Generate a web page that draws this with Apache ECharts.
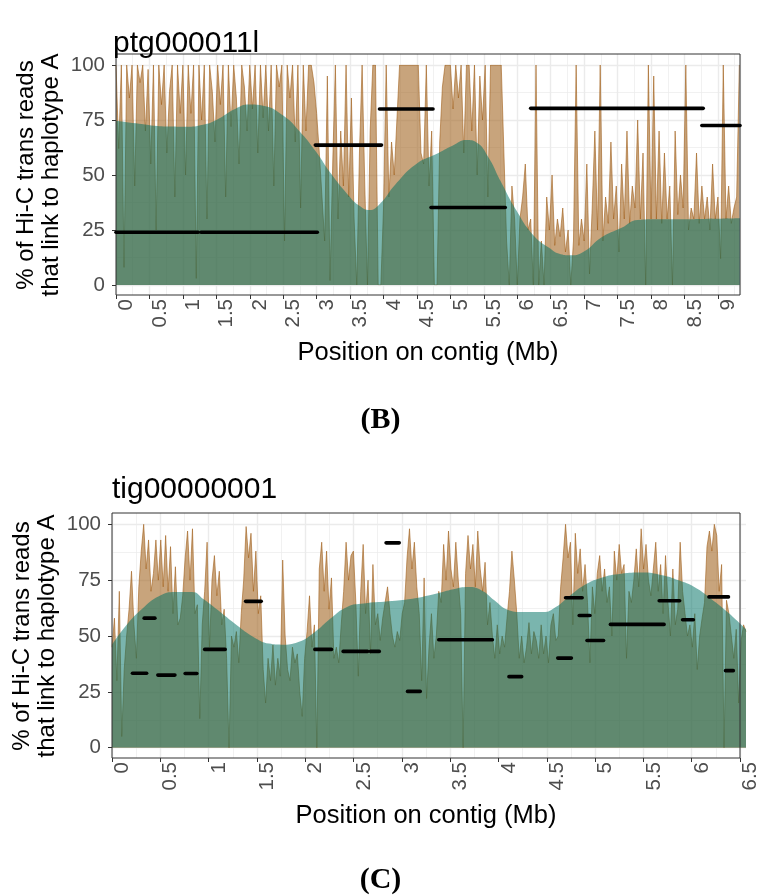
<!DOCTYPE html>
<html><head><meta charset="utf-8">
<script src="https://cdn.jsdelivr.net/npm/echarts@6/dist/echarts.min.js"></script>
<style>html,body{margin:0;padding:0;background:#fff}#c{width:761px;height:896px}</style>
</head><body><div id="c"></div>
<script>
// ---------- Panel B: ptg000011l ----------
const topTitle = 'ptg000011l';
const topBinWidth = 0.04; // Mb per bin
const topRaw = [
  100, 62, 100, 8, 100, 85, 100, 45, 100, 92, 100, 70, 98, 55, 100, 25, 100, 82, 100, 60, 88, 100, 40, 100, 78,
  100, 50, 100, 78, 100, 3, 100, 75, 100, 30, 100, 88, 65, 100, 82, 100, 40, 100, 72, 100, 85, 55, 100, 90, 70,
  100, 80, 100, 60, 100, 76, 100, 70, 100, 45, 100, 90, 100, 20, 100, 85, 100, 65, 100, 35, 100, 70, 100, 100, 92,
  78, 60, 40, 20, 95, 2, 55, 100, 30, 70, 45, 100, 40, 85, 30, 0, 60, 100, 45, 0, 70, 100, 100, 0, 0,
  35, 100, 40, 65, 50, 75, 100, 100, 100, 100, 100, 100, 100, 100, 60, 55, 100, 45, 70, 0, 0, 65, 90, 100, 100,
  100, 80, 100, 85, 100, 60, 100, 100, 70, 100, 50, 95, 75, 100, 40, 100, 100, 100, 100, 100, 60, 20, 0, 45, 30,
  0, 30, 40, 55, 25, 30, 0, 100, 0, 20, 0, 40, 25, 50, 18, 30, 22, 35, 15, 25, 0, 20, 100, 18, 30,
  20, 55, 5, 35, 70, 25, 100, 20, 40, 28, 65, 30, 45, 15, 55, 30, 70, 28, 45, 35, 75, 30, 60, 0, 100,
  30, 95, 30, 70, 28, 60, 30, 45, 0, 70, 32, 50, 35, 100, 25, 35, 30, 60, 28, 45, 30, 40, 25, 55, 30, 40, 12, 100, 30, 45, 28, 35, 40, 100
];
const topSmoothX = [0, 0.3, 0.57, 0.85, 1.05, 1.3, 1.5, 1.78, 1.99, 2.2, 2.5, 2.74, 2.98, 3.22, 3.46, 3.64, 3.79, 3.94, 4.18, 4.49, 4.79, 5.03, 5.24, 5.39, 5.57, 5.75, 5.99, 6.23, 6.47, 6.65, 6.8, 7.01, 7.25, 7.56, 7.8, 8.1, 8.4, 8.8, 9.33];
const topSmoothY = [74.7, 73.5, 72.4, 72, 71.9, 72.8, 75, 80, 82, 81.5, 77, 70, 61, 50.4, 41.3, 36, 34.1, 36.7, 45.8, 55, 59.5, 63.3, 65.9, 64.8, 58, 47.3, 33.7, 23, 17, 14, 13.5, 15.5, 21.5, 26, 29.6, 29.9, 29.9, 30, 30.3];
const topSegStart = [0, 1.27, 2.98, 3.94, 4.71, 6.2, 8.76];
const topSegEnd   = [1.23, 3.01, 3.97, 4.74, 5.82, 8.78, 9.33];
const topSegValue = [24, 24, 63.6, 80, 35.2, 80.3, 72.5];
const topXMax = 9.33;

// ---------- Panel C: tig00000001 ----------
const botTitle = 'tig00000001';
const botBinWidth = 0.025;
const botRaw = [
  45, 58, 30, 70, 5, 35, 50, 62, 79, 55,
  40, 72, 88, 100, 80, 93, 70, 78, 93, 75,
  93, 72, 95, 70, 90, 60, 81, 55, 58, 68,
  85, 97, 75, 98, 60, 64, 13, 55, 70, 92,
  45, 75, 86, 68, 79, 55, 62, 40, 0, 50,
  45, 52, 38, 60, 75, 99, 85, 96, 70, 88,
  60, 68, 35, 20, 40, 30, 46, 28, 40, 32,
  84, 50, 35, 30, 45, 38, 42, 25, 14, 40,
  52, 68, 45, 55, 0, 80, 92, 70, 88, 62,
  76, 40, 45, 38, 55, 70, 92, 75, 86, 88,
  65, 32, 70, 91, 60, 75, 42, 82, 55, 60,
  48, 58, 65, 72, 60, 50, 45, 52, 48, 60,
  65, 85, 98, 80, 92, 72, 60, 30, 76, 22,
  45, 60, 40, 50, 70, 65, 91, 75, 97, 80,
  72, 92, 75, 60, 0, 78, 95, 80, 91, 72,
  97, 80, 70, 83, 55, 65, 50, 40, 55, 42,
  50, 45, 58, 70, 88, 75, 60, 40, 50, 38,
  45, 56, 42, 52, 48, 40, 55, 42, 50, 38,
  55, 60, 48, 50, 72, 85, 100, 85, 92, 55,
  96, 78, 89, 70, 82, 65, 38, 72, 60, 78,
  86, 70, 80, 65, 72, 50, 88, 75, 91, 78,
  82, 40, 70, 65, 75, 89, 72, 98, 80, 91,
  75, 68, 80, 92, 70, 82, 60, 86, 65, 50,
  80, 55, 62, 92, 70, 60, 50, 55, 45, 60,
  35, 50, 58, 65, 90, 97, 88, 100, 95, 70,
  82, 0, 66, 60, 50, 40, 53, 20, 48, 55, 52
];
const botSmoothX = [0, 0.147, 0.31, 0.48, 0.65, 0.82, 0.94, 1.11, 1.28, 1.45, 1.61, 1.74, 1.91, 2.08, 2.24, 2.41, 2.58, 2.83, 3.08, 3.33, 3.5, 3.65, 3.79, 3.92, 4.05, 4.21, 4.42, 4.55, 4.68, 4.84, 5.01, 5.22, 5.43, 5.64, 5.81, 5.97, 6.14, 6.31, 6.5];
const botSmoothY = [46.1, 54.8, 62.2, 67.8, 69.7, 69.7, 66.4, 60.7, 54.8, 49.6, 46.6, 46.1, 47.3, 51.8, 57.8, 63, 64.5, 65.5, 66.7, 69, 70.9, 71.9, 70.4, 66, 61.9, 60.7, 60.7, 63, 67.5, 72.7, 76, 77.9, 78.4, 77.2, 74.9, 71.9, 66.7, 60.7, 53];
const botSegStart = [0.21, 0.33, 0.47, 0.75, 0.95, 1.37, 2.08, 2.37, 2.65, 2.81, 3.03, 3.35, 4.07, 4.57, 4.65, 4.79, 4.87, 5.11, 5.61, 5.85, 6.12, 6.29];
const botSegEnd   = [0.355, 0.44, 0.645, 0.87, 1.16, 1.53, 2.25, 2.62, 2.74, 2.945, 3.16, 3.9, 4.2, 4.71, 4.82, 4.9, 5.04, 5.66, 5.82, 5.96, 6.32, 6.37];
const botSegValue = [33.3, 58, 32.5, 33.2, 44, 65.5, 44, 43.1, 43.1, 91.7, 25.2, 48.3, 31.8, 40.1, 67.1, 59.2, 48, 55.2, 65.8, 57.3, 67.5, 34.5];
const botXMax = 6.5;

const yTitle = '% of Hi-C trans reads\nthat link to haplotype A';
const xTitle = 'Position on contig (Mb)';

// ---------- build ----------
const FONT = 'Liberation Sans';
const GRID = '#EBEBEB';
const binned = (vals, w) => vals.map((v, i) => [Math.round(i * w * 10000) / 10000, v]);
const zip = (xs, ys) => xs.map((x, i) => [x, ys[i]]);

function dataYAxis(gridIndex) {
  return {
    gridIndex, type: 'value', min: 0, max: 100, interval: 25,
    axisLine: {show: false},
    axisTick: {show: true, length: 4, lineStyle: {color: '#333', width: 1}},
    axisLabel: {color: '#4D4D4D', fontSize: 20.5, fontFamily: FONT, margin: 11},
    splitLine: {show: true, lineStyle: {color: GRID, width: 1.4}},
    minorTick: {show: false, splitNumber: 2},
    minorSplitLine: {show: true, lineStyle: {color: GRID, width: 0.7}},
    name: yTitle, nameLocation: 'middle', nameGap: 52, nameMoveOverlap: false,
    nameTextStyle: {color: '#000', fontSize: 24, fontFamily: FONT, lineHeight: 25}
  };
}
function dataXAxis(gridIndex, max) {
  return {gridIndex, type: 'value', min: 0, max, show: false, splitLine: {show: false}};
}
function panelXAxis(gridIndex, max, gap) {
  return {
    gridIndex, type: 'value', min: 0, max, interval: 0.5,
    axisLine: {show: false},
    axisTick: {show: true, length: 4, lineStyle: {color: '#333', width: 1}},
    axisLabel: {color: '#4D4D4D', fontSize: 20.5, fontFamily: FONT, rotate: 90, margin: 4,
      verticalAlign: 'top', showMaxLabel: max === 6.5},
    splitLine: {show: true, lineStyle: {color: GRID, width: 1.4}},
    minorTick: {show: false, splitNumber: 2},
    minorSplitLine: {show: true, lineStyle: {color: GRID, width: 0.7}},
    name: xTitle, nameLocation: 'middle', nameGap: gap,
    nameTextStyle: {color: '#000', fontSize: 25.5, fontFamily: FONT}
  };
}
function panelYAxis(gridIndex) {
  return {gridIndex, type: 'value', min: 0, max: 1, show: false, splitLine: {show: false}};
}
function rawSeries(ax, data) {
  return {type: 'line', xAxisIndex: ax, yAxisIndex: ax, data, symbol: 'none', silent: true, z: 2,
    lineStyle: {width: 0.7, color: 'rgba(160,95,25,0.85)'},
    areaStyle: {color: 'rgba(163,103,37,0.6)', opacity: 1}};
}
function smoothSeries(ax, data) {
  return {type: 'line', xAxisIndex: ax, yAxisIndex: ax, data, symbol: 'none', silent: true, z: 3, smooth: 0.5,
    lineStyle: {width: 0, opacity: 0},
    areaStyle: {color: 'rgba(0,113,99,0.52)', opacity: 1}};
}
function segSeries(ax, starts, ends, vals) {
  return {type: 'custom', xAxisIndex: ax, yAxisIndex: ax, z: 5, silent: true,
    data: starts.map((s, i) => [s, ends[i], vals[i]]),
    encode: {x: [0, 1], y: 2},
    renderItem: (params, api) => {
      const p1 = api.coord([api.value(0), api.value(2)]);
      const p2 = api.coord([api.value(1), api.value(2)]);
      return {type: 'line', shape: {x1: p1[0], y1: p1[1], x2: p2[0], y2: p2[1]},
        style: {stroke: '#000', lineWidth: 3.6, lineCap: 'round'}};
    }};
}

const option = {
  animation: false,
  backgroundColor: '#fff',
  textStyle: {fontFamily: FONT},
  title: [
    {text: topTitle, left: 113, top: 29, padding: 0, textStyle: {fontSize: 30, fontWeight: 'normal', color: '#000', fontFamily: FONT}},
    {text: botTitle, left: 112, top: 475, padding: 0, textStyle: {fontSize: 30, fontWeight: 'normal', color: '#000', fontFamily: FONT}},
    {text: '(B)', left: 'center', top: 405, padding: 0, textStyle: {fontSize: 30, fontWeight: 'bold', color: '#000', fontFamily: 'Liberation Serif'}},
    {text: '(C)', left: 'center', top: 865, padding: 0, textStyle: {fontSize: 30, fontWeight: 'bold', color: '#000', fontFamily: 'Liberation Serif'}}
  ],
  grid: [
    {left: 116, top: 65, width: 624, height: 220, containLabel: false},
    {left: 116, top: 54, width: 624, height: 241, show: true, borderColor: '#333', borderWidth: 1, backgroundColor: 'transparent', z: 5},
    {left: 112, top: 524.3, width: 634, height: 223.4, containLabel: false},
    {left: 112, top: 513, width: 634, height: 245, show: true, borderColor: '#333', borderWidth: 1, backgroundColor: 'transparent', z: 5}
  ],
  xAxis: [dataXAxis(0, topXMax), panelXAxis(1, topXMax, 45), dataXAxis(2, botXMax), panelXAxis(3, botXMax, 45)],
  yAxis: [dataYAxis(0), panelYAxis(1), dataYAxis(2), panelYAxis(3)],
  series: [
    rawSeries(0, binned(topRaw, topBinWidth)),
    smoothSeries(0, zip(topSmoothX, topSmoothY)),
    segSeries(0, topSegStart, topSegEnd, topSegValue),
    rawSeries(2, binned(botRaw, botBinWidth)),
    smoothSeries(2, zip(botSmoothX, botSmoothY)),
    segSeries(2, botSegStart, botSegEnd, botSegValue)
  ]
};
const chart = echarts.init(document.getElementById('c'), null, {renderer: 'canvas'});
chart.setOption(option);
</script>
</body></html>
